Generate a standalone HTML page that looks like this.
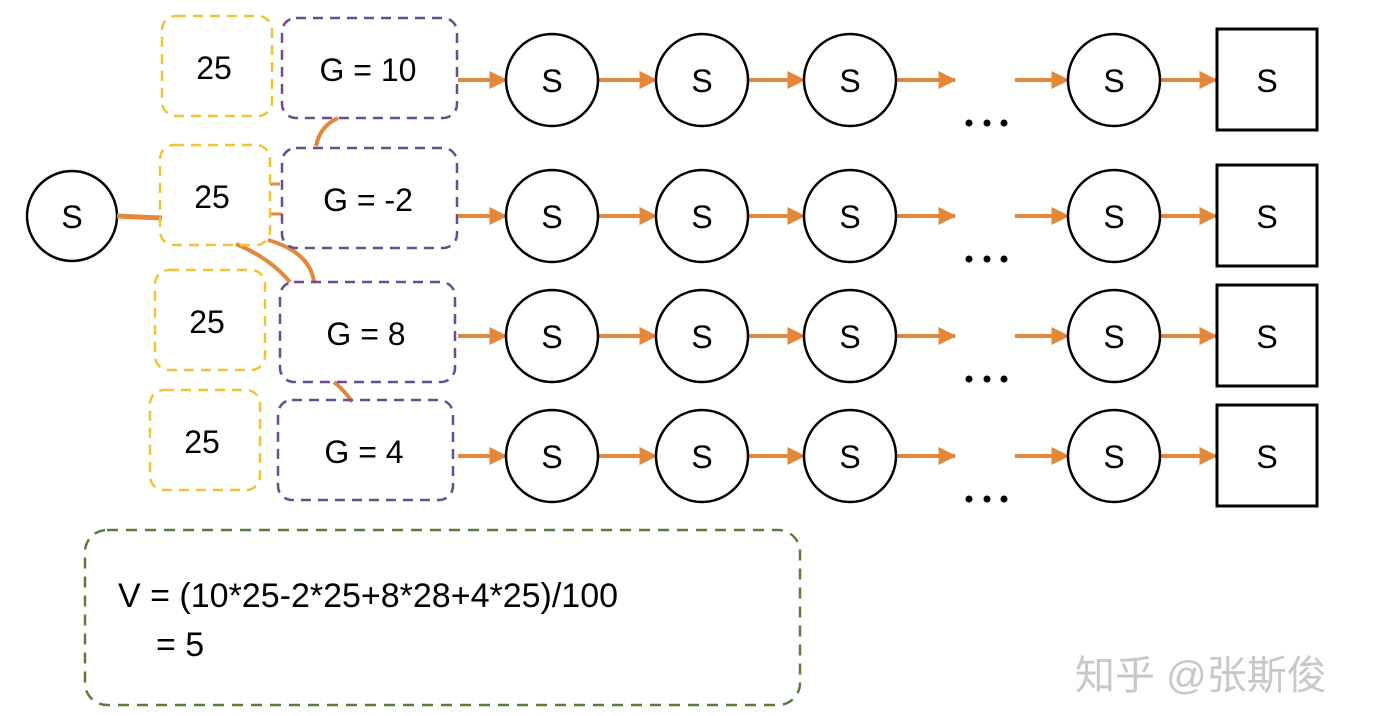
<!DOCTYPE html>
<html><head><meta charset="utf-8"><style>
html,body{margin:0;padding:0;background:#fff;}
svg{display:block;}
text{font-family:"Liberation Sans","Noto Sans CJK SC",sans-serif;}
</style></head><body>
<svg id="s" width="1376" height="716" viewBox="0 0 1376 716">
<defs>
<marker id="ah2" viewBox="0 0 12 12" markerWidth="20" markerHeight="18" refX="11" refY="6" orient="auto" markerUnits="userSpaceOnUse"><path d="M0,0 L12,6 L0,12 Z" fill="#e3873a"/></marker></defs>
<circle cx="72" cy="216" r="45" fill="none" stroke="#000" stroke-width="2.5"/>
<text x="72" y="228" font-size="32" text-anchor="middle">S</text>
<line x1="117" y1="216" x2="162" y2="218" stroke="#e3873a" stroke-width="5"/>
<path d="M316,146 Q320,126 338,118" fill="none" stroke="#e3873a" stroke-width="4"/>
<path d="M236,244 Q270,258 290,282" fill="none" stroke="#e3873a" stroke-width="4"/>
<path d="M268,240 Q310,252 314,282" fill="none" stroke="#e3873a" stroke-width="4"/>
<path d="M334,382 Q346,392 352,402" fill="none" stroke="#e3873a" stroke-width="4"/>
<path d="M270,184 L280,184 M270,214 L282,214" stroke="#e3873a" stroke-width="3"/>
<g id="rows"></g>
<rect x="85" y="530" width="715" height="175" rx="22" fill="none" stroke="#5b7c3a" stroke-width="2.5" stroke-dasharray="11,8"/>
<text x="118" y="607" font-size="34">V = (10*25-2*25+8*28+4*25)/100</text>
<text x="156" y="656" font-size="34">= 5</text>
<text x="1075" y="689" font-size="40" fill="#c8c8c8">知乎 @张斯俊</text>
</svg>
<script>
const probs=["25","25","25","25"];
const returns=["G = 10","G = -2","G = 8","G = 4"];
const rowY=[80,216,336,456];
const yBox=[[162,16],[160,145],[155,270],[150,390]];
const pBox=[[282,18],[282,148],[280,282],[278,400]];
const g=document.getElementById('rows');
const NS='http://www.w3.org/2000/svg';
function mk(t,a){const e=document.createElementNS(NS,t);for(const k in a)e.setAttribute(k,a[k]);g.appendChild(e);return e;}
for(let i=0;i<4;i++){
 const y=rowY[i];
 let e=mk('rect',{x:yBox[i][0],y:yBox[i][1],width:110,height:100,rx:14,fill:'none',stroke:'#f0c531','stroke-width':2.5,'stroke-dasharray':'10,7'});
 
 
 e=mk('text',{x:yBox[i][0]+52,y:yBox[i][1]+63,'font-size':32,'text-anchor':'middle'});e.textContent=probs[i];
 
 
 e=mk('rect',{x:pBox[i][0],y:pBox[i][1],width:175,height:100,rx:14,fill:'none',stroke:'#6a4c93','stroke-width':2.5,'stroke-dasharray':'10,7'});
 
 
 e=mk('text',{x:pBox[i][0]+86,y:pBox[i][1]+63,'font-size':32,'text-anchor':'middle'});e.textContent=returns[i];
 
 
 const arr=[[458,506],[598,656],[748,804],[896,955],[1015,1068],[1160,1216]];
 arr.forEach(a=>{e=mk('line',{x1:a[0],y1:y,x2:a[1],y2:y,stroke:'#e3873a','stroke-width':4,'marker-end':'url(#ah2)'});
 
 });
 [552,702,850,1114].forEach(cx=>{e=mk('circle',{cx:cx,cy:y,r:46,fill:'none',stroke:'#000','stroke-width':2.5});
 
 
 e=mk('text',{x:cx,y:y+12,'font-size':32,'text-anchor':'middle'});e.textContent='S';});
 e=mk('rect',{x:1217,y:y-51,width:100,height:101,fill:'none',stroke:'#000','stroke-width':3});
 
 
 e=mk('text',{x:1267,y:y+12,'font-size':32,'text-anchor':'middle'});e.textContent='S';
 [969,987,1004].forEach(dx=>{e=mk('circle',{cx:dx,cy:y+43,r:3.5,fill:'#000'});
 
 });
}
</script>
</body></html>
